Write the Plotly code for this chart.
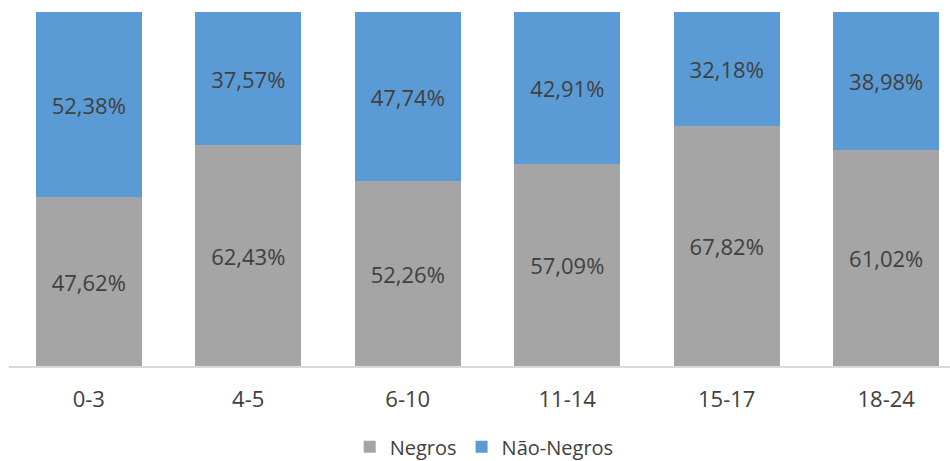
import plotly.graph_objects as go

categories = ["0-3", "4-5", "6-10", "11-14", "15-17", "18-24"]
negros = [47.62, 62.43, 52.26, 57.09, 67.82, 61.02]
nao_negros = [52.38, 37.57, 47.74, 42.91, 32.18, 38.98]

def fmt(v):
    return f"{v:.2f}".replace(".", ",") + "%"

font_family = "Open Sans, DejaVu Sans, sans-serif"
text_color = "#404040"

fig = go.Figure()
fig.add_trace(go.Bar(
    x=categories, y=negros, name="Negros",
    marker=dict(color="#A5A5A5", line=dict(width=0)),
    text=[fmt(v) for v in negros], textposition="inside",
    insidetextanchor="middle", textangle=0,
    textfont=dict(size=22, color=text_color, family=font_family),
))
fig.add_trace(go.Bar(
    x=categories, y=nao_negros, name="Não-Negros",
    marker=dict(color="#5B9BD5", line=dict(width=0)),
    text=[fmt(v) for v in nao_negros], textposition="inside",
    insidetextanchor="middle", textangle=0,
    textfont=dict(size=22, color=text_color, family=font_family),
))

fig.update_layout(
    barmode="stack",
    bargap=0.335,
    width=950, height=475,
    margin=dict(l=9, r=0, t=12, b=109),
    paper_bgcolor="white", plot_bgcolor="white",
    font=dict(family=font_family, size=20, color=text_color),
    uniformtext=dict(minsize=22, mode="show"),
    legend=dict(
        orientation="h", x=0.505, xanchor="center", y=-0.228, yanchor="middle",
        font=dict(size=20, color=text_color), traceorder="normal",
        itemwidth=30,
    ),
    xaxis=dict(
        type="category", range=[-0.5, 5.4],
        showline=True, linecolor="#D9D9D9", linewidth=2,
        ticks="outside", ticklen=13, tickcolor="rgba(0,0,0,0)",
        tickfont=dict(size=22, color=text_color),
        showgrid=False,
    ),
    yaxis=dict(range=[0, 100], visible=False, showgrid=False, zeroline=False),
)

fig.write_html(
    "out.html",
    config={"displayModeBar": False},
    post_script="document.body.style.margin='0';document.body.style.overflow='hidden';",
)
